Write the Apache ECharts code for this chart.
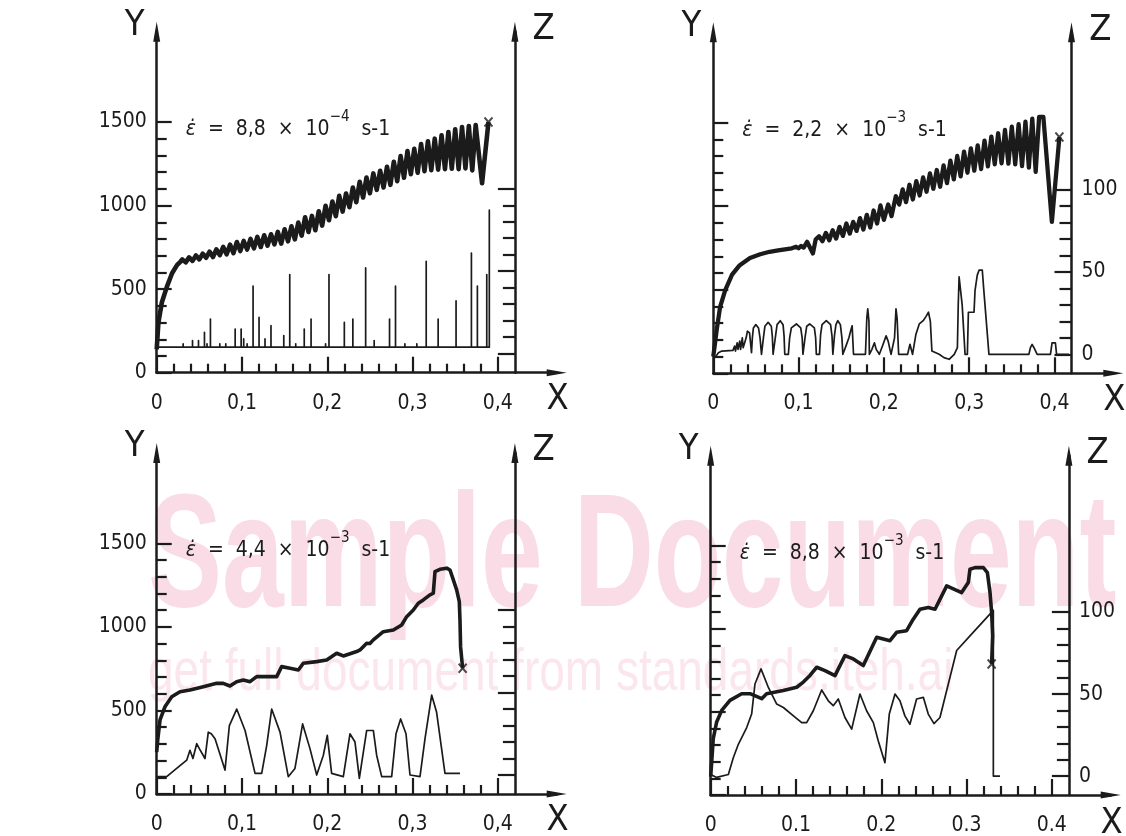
<!DOCTYPE html>
<html>
<head>
<meta charset="utf-8">
<title>Serrated flow curves</title>
<script src="https://cdn.jsdelivr.net/npm/echarts@6/dist/echarts.min.js"></script>
<style>
  html, body { margin: 0; padding: 0; background: #fff; }
  #chart { width: 1126px; height: 836px; }
</style>
</head>
<body>
<div id="chart"></div>
<script>
// values, [strain X, stress Y] and [strain X, Z]
const stress1 = [
  [0, 140], [0.002, 300], [0.006, 420], [0.012, 515], [0.018, 595], [0.024, 645], [0.028, 665],
  [0.030, 678], [0.034, 660], [0.038, 690], [0.042, 669], [0.046, 701], [0.050, 678], [0.054, 712], [0.058, 688],
  [0.062, 724], [0.066, 692], [0.070, 738], [0.074, 703], [0.078, 752], [0.082, 708], [0.086, 766], [0.090, 715],
  [0.094, 782], [0.098, 728], [0.102, 788], [0.106, 737], [0.110, 800], [0.114, 744], [0.118, 812], [0.122, 752],
  [0.126, 822], [0.130, 760], [0.134, 828], [0.138, 768], [0.142, 842], [0.146, 772], [0.150, 858], [0.154, 786],
  [0.158, 876], [0.162, 798], [0.166, 898], [0.170, 820], [0.174, 930], [0.178, 842], [0.182, 938], [0.186, 852],
  [0.190, 966], [0.194, 880], [0.198, 998], [0.202, 912], [0.206, 1024], [0.210, 936], [0.214, 1058], [0.218, 964],
  [0.222, 1072], [0.226, 990], [0.230, 1108], [0.234, 1020], [0.238, 1142], [0.242, 1048], [0.246, 1168], [0.250, 1074],
  [0.254, 1192], [0.258, 1094], [0.262, 1208], [0.266, 1108], [0.270, 1232], [0.274, 1124], [0.278, 1262], [0.282, 1146],
  [0.286, 1296], [0.290, 1166], [0.294, 1326], [0.298, 1188], [0.302, 1340], [0.306, 1196], [0.310, 1368], [0.314, 1206],
  [0.318, 1384], [0.322, 1212], [0.326, 1400], [0.330, 1215], [0.334, 1420], [0.338, 1218], [0.342, 1440], [0.346, 1220],
  [0.350, 1456], [0.354, 1218], [0.358, 1470], [0.362, 1222], [0.366, 1476], [0.370, 1210], [0.374, 1482], [0.3815, 1134],
  [0.389, 1500]
]
// panel 1: Z drawn as spikes standing on a baseline
const z1Base = 4
const z1BarX = [0.031, 0.042, 0.049, 0.056, 0.059, 0.063, 0.074, 0.081, 0.092, 0.099, 0.102, 0.106, 0.113,
  0.120, 0.127, 0.134, 0.149, 0.156, 0.163, 0.173, 0.181, 0.198, 0.202, 0.220, 0.230, 0.245, 0.255, 0.273,
  0.280, 0.291, 0.305, 0.316, 0.330, 0.351, 0.369, 0.376, 0.387, 0.390]
const z1BarTop = [6, 8, 8, 13, 6, 21, 6, 6, 15, 15, 9, 6, 41,
  22, 9, 17, 11, 48, 6, 15, 21, 6, 48, 19, 21, 52, 8, 21,
  41, 6, 6, 56, 21, 32, 61, 41, 48, 87]

const stress2 = [
  [0, 100], [0.002, 180], [0.004, 260], [0.008, 398], [0.014, 498], [0.022, 590], [0.031, 647], [0.043, 690],
  [0.055, 712], [0.066, 727], [0.076, 735], [0.086, 743], [0.092, 748], [0.097, 757], [0.100, 748], [0.103, 762],
  [0.106, 752], [0.110, 787], [0.1168, 717], [0.120, 800],
  [0.124, 820], [0.128, 790], [0.132, 840], [0.136, 796], [0.140, 856], [0.144, 806], [0.148, 876], [0.152, 822],
  [0.156, 896], [0.160, 836], [0.164, 906], [0.168, 852], [0.172, 928], [0.176, 860], [0.180, 948], [0.184, 872],
  [0.188, 974], [0.192, 896], [0.196, 1004], [0.200, 918], [0.205, 1010], [0.209, 940], [0.214, 1060], [0.218, 1010],
  [0.222, 1100], [0.226, 1024], [0.230, 1128], [0.234, 1040], [0.238, 1150], [0.242, 1064], [0.246, 1172], [0.250, 1086],
  [0.254, 1196], [0.258, 1104], [0.262, 1216], [0.266, 1116], [0.270, 1244], [0.274, 1138], [0.278, 1272], [0.282, 1160],
  [0.286, 1300], [0.290, 1178], [0.294, 1326], [0.298, 1200], [0.302, 1346], [0.306, 1212], [0.310, 1364], [0.314, 1222],
  [0.318, 1392], [0.322, 1238], [0.326, 1416], [0.330, 1250], [0.334, 1436], [0.338, 1256], [0.342, 1456], [0.346, 1254],
  [0.350, 1476], [0.354, 1250], [0.358, 1490], [0.362, 1240], [0.366, 1506], [0.370, 1230], [0.374, 1524], [0.378, 1205],
  [0.382, 1534], [0.387, 1534], [0.397, 906], [0.4058, 1414]
]
const z2 = [
  [0.002, -2], [0.006, 1], [0.010, 2], [0.023, 2.4], [0.025, 5], [0.026, 2], [0.028, 7], [0.029, 3], [0.031, 8],
  [0.032, 3], [0.034, 10], [0.035, 4], [0.037, 4],
  [0.0385, 10], [0.040, 14], [0.0425, 13], [0.0448, 1],
  [0.0458, 10], [0.047, 16], [0.0499, 18], [0.053, 16], [0.0548, 10], [0.0565, 0],
  [0.058, 0], [0.059, 11], [0.0605, 17], [0.0643, 19.4], [0.068, 17], [0.0692, 11], [0.0701, 0],
  [0.0722, 0], [0.0732, 12], [0.0748, 18], [0.0785, 20.4], [0.0818, 18], [0.083, 11], [0.0838, 0], [0.088, 0],
  [0.0895, 10], [0.0915, 16], [0.0974, 18.4], [0.1025, 16], [0.1042, 10], [0.1051, 0],
  [0.1065, 0], [0.1078, 11], [0.1095, 17], [0.113, 18.4], [0.1185, 16], [0.120, 10], [0.1208, 0], [0.1245, 0],
  [0.1258, 12], [0.1275, 18], [0.1325, 20.4], [0.1375, 18], [0.1392, 11], [0.1402, 0],
  [0.1412, 0], [0.1422, 12], [0.1438, 18], [0.146, 20.4], [0.149, 18], [0.1508, 10], [0.1519, 0],
  [0.153, 0], [0.1555, 5], [0.159, 10], [0.1615, 15], [0.1628, 17.3], [0.1644, 0],
  [0.1784, 0], [0.180, 22], [0.1811, 27.6], [0.1825, 20], [0.183, 0], [0.186, 3], [0.1889, 7], [0.191, 3], [0.1947, 0],
  [0.199, 6], [0.2026, 11.2], [0.205, 8], [0.2084, 0], [0.2125, 10], [0.2142, 27.6], [0.2155, 22], [0.2173, 0],
  [0.2278, 0], [0.2306, 6.1], [0.2336, 0], [0.2375, 12], [0.2415, 18.4], [0.2461, 20.4], [0.2495, 23], [0.2523, 25.5],
  [0.2545, 20], [0.2563, 2], [0.2648, 0], [0.2705, -2], [0.2765, -3], [0.2825, 0], [0.2862, 4],
  [0.2872, 30], [0.2882, 47], [0.2905, 48], [0.2918, 30], [0.2952, 0], [0.2979, 0],
  [0.2991, 25.5], [0.3057, 25.5], [0.3069, 38.8], [0.3095, 48], [0.3116, 51], [0.3154, 51], [0.317, 40], [0.3232, 0],
  [0.370, 0], [0.3718, 4], [0.3738, 6], [0.376, 4], [0.3797, 0],
  [0.3953, 0], [0.3972, 7], [0.4011, 7], [0.4025, 0], [0.417, 0]
]

const stress3 = [
  [0, 250], [0.0012, 323], [0.0039, 443], [0.0097, 522], [0.0176, 582], [0.0273, 612], [0.039, 622], [0.0547, 642],
  [0.0703, 662], [0.078, 662], [0.0859, 646], [0.0937, 672], [0.1016, 682], [0.1094, 672], [0.1172, 702], [0.125, 702],
  [0.1407, 702], [0.1465, 762], [0.1563, 752], [0.1661, 742], [0.1719, 782], [0.1876, 792], [0.1993, 802], [0.211, 842],
  [0.2188, 826], [0.2345, 852], [0.2384, 862], [0.2462, 902], [0.250, 900], [0.254, 922], [0.2657, 971], [0.2775, 981],
  [0.2872, 1011], [0.2931, 1061], [0.3009, 1101], [0.3067, 1141], [0.3126, 1161], [0.3204, 1191], [0.3243, 1201],
  [0.3263, 1330], [0.3321, 1344], [0.340, 1351], [0.3439, 1340], [0.3478, 1281], [0.3517, 1221], [0.3548, 1151],
  [0.3556, 1041], [0.3563, 880], [0.3587, 752]
]
const z3 = [
  [0, -1], [0.0117, -1], [0.0234, 4], [0.0352, 9], [0.039, 15], [0.0425, 10], [0.0469, 19], [0.050, 16], [0.0566, 10],
  [0.0605, 26], [0.064, 25], [0.0684, 22], [0.0801, 3], [0.0852, 30], [0.0938, 40], [0.1036, 27], [0.1153, 1],
  [0.1231, 1], [0.129, 18], [0.1348, 40], [0.1446, 26], [0.1543, -1], [0.1621, 4], [0.1711, 31], [0.1797, 16],
  [0.1876, 0], [0.1954, 12], [0.200, 24], [0.2051, 1], [0.2188, -1], [0.2266, 25], [0.2325, 20], [0.2376, -2],
  [0.2462, 27], [0.254, 27], [0.2579, 12], [0.2638, -1], [0.2755, -1], [0.2806, 25], [0.286, 34], [0.2923, 25],
  [0.297, 0], [0.3087, -1], [0.3146, 22], [0.3224, 48.5], [0.3282, 38], [0.338, 1], [0.3556, 1]
]

const stress4 = [
  [0, 110], [0.0012, 200], [0.003, 339], [0.007, 439], [0.0129, 509], [0.0226, 569], [0.0363, 609], [0.0461, 609],
  [0.0598, 579], [0.0656, 609], [0.0851, 628], [0.1008, 648], [0.1086, 679], [0.1164, 719], [0.1243, 768], [0.134, 748],
  [0.1457, 718], [0.1574, 838], [0.1672, 818], [0.1789, 778], [0.1946, 948], [0.2024, 938], [0.2102, 928], [0.218, 978],
  [0.2297, 988], [0.2375, 1057], [0.2454, 1117], [0.2551, 1127], [0.263, 1117], [0.2767, 1257], [0.2942, 1217],
  [0.302, 1277], [0.304, 1357], [0.3099, 1367], [0.3197, 1367], [0.3244, 1337], [0.3275, 1217], [0.3294, 1097],
  [0.3306, 958], [0.3294, 788]
]
const z4 = [
  [0, 1], [0.007, -0.8], [0.0207, 1], [0.0265, 11.2], [0.0324, 19.4], [0.0422, 29.6], [0.048, 37.8], [0.0519, 56.1],
  [0.059, 65.3], [0.0676, 54], [0.0774, 43.9], [0.0852, 41.8], [0.097, 36.7], [0.1067, 32.6], [0.1125, 32.6],
  [0.1203, 39.8], [0.1301, 52.5], [0.1379, 45.9], [0.1437, 42.9], [0.1496, 47], [0.1574, 35.7], [0.1653, 28.6],
  [0.175, 50], [0.1828, 39.8], [0.1907, 32.6], [0.1965, 21.4], [0.2043, 8.2], [0.2094, 37.8], [0.2161, 50],
  [0.2219, 45.9], [0.2277, 36.7], [0.2336, 31.6], [0.2414, 47], [0.2493, 48], [0.2551, 37.8], [0.2618, 32],
  [0.2688, 35.7], [0.2786, 56.1], [0.2884, 76.5], [0.3099, 88.8], [0.3314, 101], [0.3314, 0], [0.3392, 0]
]

// strain rates printed in each panel: mantissa, exponent
const rateMantissa = ['8,8', '2,2', '4,4', '8,8']
const rateExponent = ['−4', '−3', '−3', '−3']

// tick values
const xMajor = [0, 0.1, 0.2, 0.3, 0.4]
const xMinor = []
for (let k = 1; k < 20; k++) if (k % 5) xMinor.push(k / 50)
const yMajor = [0, 500, 1000, 1500]
const yMinor = [100, 200, 300, 400, 600, 700, 800, 900, 1100, 1200, 1300, 1400]
const zMajor = [0, 50, 100]
const zMinor = [10, 20, 30, 40, 60, 70, 80, 90]

// ---- layout ----
const INK = '#1b1b1b'
const FONT = "'DejaVu Sans Condensed', 'DejaVu Sans', sans-serif"
const X_MAX = 0.469, Y_MAX = 2040, Z_MIN = -11.5, Z_MAX = 195.2
const GRID_W = 400, GRID_H = 341, Z_OFFSET = -41.8

const panels = [
  { x0: 156.7, y0: 372.7, yLabels: true, zLabels: false, sep: ',', lw: 4.6 },
  { x0: 713.3, y0: 373.3, yLabels: false, zLabels: true, sep: ',', lw: 4.3 },
  { x0: 156.7, y0: 794, yLabels: true, zLabels: false, sep: ',', lw: 3.6 },
  { x0: 710.7, y0: 796.7, yLabels: false, zLabels: true, sep: '.', lw: 3.6 }
]

// spikes -> one polyline along the baseline
const z1 = [[0, z1Base]]
z1BarX.forEach((x, i) => { z1.push([x, z1Base], [x, z1BarTop[i]], [x, z1Base]) })

const stressData = [stress1, stress2, stress3, stress4]
const zData = [z1, z2, z3, z4]

function tickStyle (values, length) {
  return { show: true, inside: true, length: length, customValues: values, lineStyle: { color: INK, width: 2.2 } }
}
const labelStyle = { color: INK, fontFamily: FONT, fontSize: 21, formatter: v => String(v) }
const arrowLine = { show: true, onZero: false, symbol: ['none', 'triangle'], symbolSize: [7, 20], lineStyle: { color: INK, width: 2.5 } }
const noLine = { show: false, onZero: false }

const grid = [], xAxis = [], yAxis = [], series = [], graphic = []

panels.forEach((p, i) => {
  grid.push({ left: p.x0, top: p.y0 - GRID_H, width: GRID_W, height: GRID_H })

  xAxis.push({
    gridIndex: i, type: 'value', position: 'bottom', min: 0, max: X_MAX, splitLine: { show: false },
    axisLine: arrowLine, axisTick: tickStyle(xMajor, 16),
    axisLabel: Object.assign({}, labelStyle, { customValues: xMajor, margin: 20, formatter: v => v === 0 ? '0' : v.toFixed(1).replace('.', p.sep) })
  }, {
    gridIndex: i, type: 'value', position: 'bottom', min: 0, max: X_MAX, splitLine: { show: false },
    axisLine: noLine, axisTick: tickStyle(xMinor, 9), axisLabel: { show: false }
  })

  yAxis.push({
    gridIndex: i, type: 'value', position: 'left', min: 0, max: Y_MAX, splitLine: { show: false },
    axisLine: arrowLine, axisTick: tickStyle(yMajor, 15),
    axisLabel: p.yLabels ? Object.assign({}, labelStyle, { customValues: yMajor, margin: 10 }) : { show: false }
  }, {
    gridIndex: i, type: 'value', position: 'left', min: 0, max: Y_MAX, splitLine: { show: false },
    axisLine: noLine, axisTick: tickStyle(yMinor, 10), axisLabel: { show: false }
  }, {
    gridIndex: i, type: 'value', position: 'right', offset: Z_OFFSET, min: Z_MIN, max: Z_MAX, splitLine: { show: false },
    axisLine: arrowLine, axisTick: tickStyle(zMajor, 17),
    axisLabel: p.zLabels ? Object.assign({}, labelStyle, { customValues: zMajor, margin: 10 }) : { show: false }
  }, {
    gridIndex: i, type: 'value', position: 'right', offset: Z_OFFSET, min: Z_MIN, max: Z_MAX, splitLine: { show: false },
    axisLine: noLine, axisTick: tickStyle(zMinor, 12), axisLabel: { show: false }
  })

  const stress = stressData[i]
  series.push({
    type: 'line', xAxisIndex: 2 * i, yAxisIndex: 4 * i + 2, data: zData[i], showSymbol: false, z: 3,
    lineStyle: { color: INK, width: 1.7, join: 'round' }
  }, {
    type: 'line', xAxisIndex: 2 * i, yAxisIndex: 4 * i, data: stress, showSymbol: false, z: 4,
    lineStyle: { color: INK, width: p.lw, join: 'round' }
  }, {
    type: 'scatter', xAxisIndex: 2 * i, yAxisIndex: 4 * i, data: [stress[stress.length - 1]], z: 5,
    symbol: 'path://M0 0L10 10M10 0L0 10', symbolSize: [8, 9],
    itemStyle: { color: 'none', borderColor: INK, borderWidth: 2 }
  })

  const letter = (txt, x, y) => ({
    type: 'text', x: x, y: y, z: 100,
    style: { text: txt, fill: INK, font: '36px ' + FONT, align: 'center', verticalAlign: 'middle' }
  })
  graphic.push(letter('Y', p.x0 - 22, p.y0 - 347), letter('Z', p.x0 + 387, p.y0 - 343), letter('X', p.x0 + 401, p.y0 + 27))

  graphic.push({
    type: 'text', x: p.x0 + 29, y: p.y0 - 243, z: 100,
    style: {
      text: '{e|ε\u0307}{t|  =  ' + rateMantissa[i] + '  ×  10}{s|' + rateExponent[i] + '}{t|  s-1}',
      fill: INK, fontFamily: FONT, fontSize: 21, align: 'left', verticalAlign: 'middle',
      rich: {
        e: { fontFamily: FONT, fontSize: 21, fontStyle: 'italic', lineHeight: 40, fill: INK },
        t: { fontFamily: FONT, fontSize: 21, lineHeight: 40, fill: INK },
        s: { fontFamily: FONT, fontSize: 15, lineHeight: 15, verticalAlign: 'top', fill: INK }
      }
    }
  })
})

// watermark behind the plots
graphic.push({
  type: 'text', x: 148, y: 562, scaleY: 1.45, z: -1,
  style: { text: 'Sample Document', fill: '#f9dce6', font: 'bold 111px "Liberation Sans", Arial, sans-serif', align: 'left', verticalAlign: 'middle' }
}, {
  type: 'text', x: 148, y: 674, scaleY: 1.3, z: -1,
  style: { text: 'get full document from standards.iteh.ai', fill: '#fce6ed', font: '46px "Liberation Sans", Arial, sans-serif', align: 'left', verticalAlign: 'middle' }
})

const chart = echarts.init(document.getElementById('chart'))
chart.setOption({
  animation: false,
  backgroundColor: '#fff',
  grid: grid,
  xAxis: xAxis,
  yAxis: yAxis,
  series: series,
  graphic: graphic
})
</script>
</body>
</html>
